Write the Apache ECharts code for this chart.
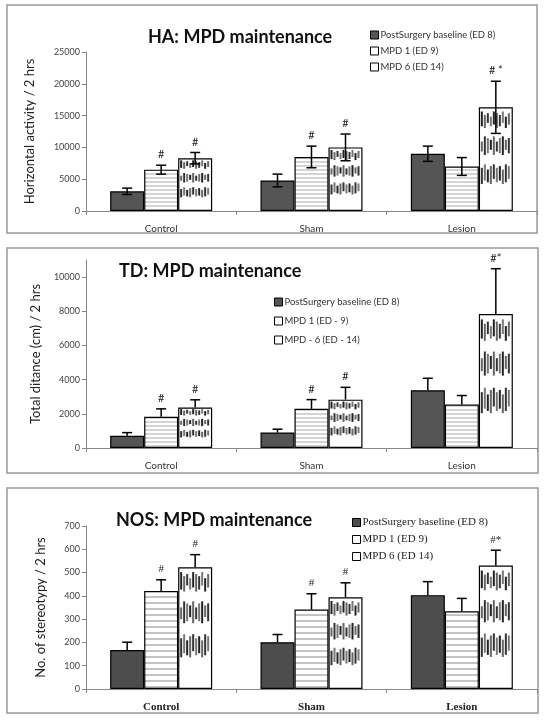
<!DOCTYPE html>
<html><head><meta charset="utf-8">
<script src="https://cdn.jsdelivr.net/npm/echarts@6/dist/echarts.min.js"></script>
<style>html,body{margin:0;padding:0;background:#fff}#c{width:545px;height:721px}</style>
</head><body><div id="c"></div>
<script>
// ---------- data ----------
const categories = ['Control', 'Sham', 'Lesion'];

const haNames = ['PostSurgery baseline (ED 8)', 'MPD 1 (ED 9)', 'MPD 6 (ED 14)'];
const haBase = [3100, 4800, 9000];
const haBaseErr = [500, 1000, 1200];
const haMpd1 = [6500, 8500, 7000];
const haMpd1Err = [700, 1700, 1400];
const haMpd6 = [8300, 10000, 16300];
const haMpd6Err = [900, 2100, 4100];
const haMpd1Marks = ['#', '#', ''];
const haMpd6Marks = ['#', '#', '# *'];
const haTicks = [0, 5000, 10000, 15000, 20000, 25000];

const tdNames = ['PostSurgery baseline (ED 8)', 'MPD 1 (ED - 9)', 'MPD - 6 (ED - 14)'];
const tdBase = [720, 910, 3380];
const tdBaseErr = [180, 190, 700];
const tdMpd1 = [1830, 2290, 2540];
const tdMpd1Err = [460, 540, 530];
const tdMpd6 = [2370, 2830, 7840];
const tdMpd6Err = [450, 720, 2650];
const tdMpd1Marks = ['#', '#', ''];
const tdMpd6Marks = ['#', '#', '#*'];
const tdTicks = [0, 2000, 4000, 6000, 8000, 10000];
const tdAxisMax = 11000;

const nosNames = ['PostSurgery baseline (ED 8)', 'MPD 1 (ED 9)', 'MPD 6 (ED 14)'];
const nosBase = [167, 201, 403];
const nosBaseErr = [34, 33, 58];
const nosMpd1 = [421, 341, 334];
const nosMpd1Err = [48, 68, 55];
const nosMpd6 = [523, 394, 530];
const nosMpd6Err = [54, 62, 66];
const nosMpd1Marks = ['#', '#', ''];
const nosMpd6Marks = ['#', '#', '#*'];
const nosTicks = [0, 100, 200, 300, 400, 500, 600, 700];

// ---------- styles ----------
const SANS = 'Lato, "Liberation Sans", sans-serif';
const SERIF = '"Liberation Serif", "DejaVu Serif", serif';
const BAR_W = 34;

function hPattern(step, color) {
  const c = document.createElement('canvas');
  c.width = 16; c.height = step;
  const g = c.getContext('2d');
  g.fillStyle = '#fff'; g.fillRect(0, 0, 16, step);
  g.strokeStyle = color; g.lineWidth = 1;
  g.beginPath(); g.moveTo(0, step / 2); g.lineTo(16, step / 2); g.stroke();
  return c;
}
const pat1 = { image: hPattern(4, '#aaa'), repeat: 'repeat' };
const pat3h = { image: hPattern(6, '#888'), repeat: 'repeat' };

// stripe band geometry (fractions of bar height from the top) and jag offsets (style only)
const BANDS = [[0.04, 0.2], [0.28, 0.46], [0.55, 0.74]];
const JAG_TOP = [0, 2, 1, 3, 0, 1, 2, 0, 3, 1];
const JAG_BOT = [1, 0, 3, 1, 2, 0, 1, 3, 0, 2];
const STRIPE_COLS = ['#222', '#666', '#333', '#777'];

const panels = [
  { names: haNames, vals: [haBase, haMpd1, haMpd6], errs: [haBaseErr, haMpd1Err, haMpd6Err],
    marks: [['', '', ''], haMpd1Marks, haMpd6Marks], ticks: haTicks, max: haTicks[haTicks.length - 1],
    both: true, fills: ['#555', pat1, '#fff'],
    grid: { left: 86, top: 52, width: 451, height: 159 },
    title: 'HA: MPD maintenance', titlePos: { left: 143, top: 23 },
    yName: 'Horizontal activity / 2 hrs', nameGap: 50,
    legendPos: { left: 365, top: 25 }, legendGap: 6, legendFont: { fontFamily: SANS, fontSize: 9.5, color: '#333' },
    catFont: { fontFamily: SANS, fontSize: 10, color: '#333' } },
  { names: tdNames, vals: [tdBase, tdMpd1, tdMpd6], errs: [tdBaseErr, tdMpd1Err, tdMpd6Err],
    marks: [['', '', ''], tdMpd1Marks, tdMpd6Marks], ticks: tdTicks, max: tdAxisMax,
    both: false, fills: ['#555', pat1, '#fff'],
    grid: { left: 86, top: 260, width: 451, height: 188 },
    title: 'TD: MPD maintenance', titlePos: { left: 114, top: 257 },
    yName: 'Total ditance (cm) / 2 hrs', nameGap: 44,
    legendPos: { left: 269, top: 292 }, legendGap: 9, legendFont: { fontFamily: SANS, fontSize: 9.5, color: '#333' },
    catFont: { fontFamily: SANS, fontSize: 10, color: '#333' } },
  { names: nosNames, vals: [nosBase, nosMpd1, nosMpd6], errs: [nosBaseErr, nosMpd1Err, nosMpd6Err],
    marks: [['', '', ''], nosMpd1Marks, nosMpd6Marks], ticks: nosTicks, max: nosTicks[nosTicks.length - 1],
    both: false, fills: ['#4d4d4d', pat3h, '#fff'],
    grid: { left: 86, top: 526, width: 451, height: 163 },
    title: 'NOS: MPD maintenance', titlePos: { left: 111, top: 506 },
    yName: 'No. of stereotypy / 2 hrs', nameGap: 39,
    legendPos: { left: 347, top: 512 }, legendGap: 6, legendFont: { fontFamily: SERIF, fontSize: 11, color: '#222' },
    catFont: { fontFamily: SERIF, fontSize: 11, fontWeight: 'bold', color: '#222' } }
];

const option = {
  animation: false,
  backgroundColor: '#fff',
  title: [], legend: [], grid: [], xAxis: [], yAxis: [], series: [],
  graphic: [
    { type: 'rect', shape: { x: 7, y: 5, width: 530, height: 228 }, style: { fill: 'none', stroke: '#999', lineWidth: 1.5 } },
    { type: 'rect', shape: { x: 7, y: 248, width: 531, height: 225 }, style: { fill: 'none', stroke: '#999', lineWidth: 1.5 } },
    { type: 'rect', shape: { x: 7, y: 488, width: 531, height: 225 }, style: { fill: 'none', stroke: '#999', lineWidth: 1.5 } }
  ]
};

panels.forEach((p, pi) => {
  option.grid.push(p.grid);
  option.title.push({ text: p.title, left: p.titlePos.left, top: p.titlePos.top,
    textStyle: { fontFamily: SANS, fontSize: 18, fontWeight: 'bold', color: '#111' } });
  option.legend.push({
    orient: 'vertical', left: p.legendPos.left, top: p.legendPos.top,
    itemWidth: 8, itemHeight: 8, itemGap: p.legendGap, icon: 'rect', selectedMode: false,
    textStyle: Object.assign({ padding: [0, 0, 0, -3] }, p.legendFont),
    data: p.names.map((n, k) => ({ name: n,
      itemStyle: { color: k === 0 ? p.fills[0] : '#fff', borderColor: '#000', borderWidth: 1 } }))
  });
  option.xAxis.push({
    type: 'category', gridIndex: pi, data: categories,
    axisLine: { lineStyle: { color: '#888', width: 1 } },
    axisTick: { show: true, length: 4, lineStyle: { color: '#888' } },
    axisLabel: Object.assign({ margin: 13 }, p.catFont)
  });
  option.yAxis.push({
    type: 'value', gridIndex: pi, min: 0, max: p.max, interval: p.ticks[1] - p.ticks[0],
    splitLine: { show: false },
    axisLine: { show: true, lineStyle: { color: '#888' } },
    axisTick: { show: true, length: 4, lineStyle: { color: '#888' } },
    axisLabel: { showMaxLabel: p.max === p.ticks[p.ticks.length - 1], fontFamily: SANS, fontSize: 9,
      color: '#444', margin: 6, formatter: v => String(v) },
    name: p.yName, nameLocation: 'middle', nameGap: p.nameGap,
    nameTextStyle: { fontFamily: SANS, fontSize: 13, color: '#222' }
  });
  p.vals.forEach((v, k) => {
    option.series.push({
      type: 'bar', name: p.names[k], xAxisIndex: pi, yAxisIndex: pi, data: v,
      barWidth: BAR_W, barGap: '0%',
      itemStyle: { color: p.fills[k], borderColor: '#000', borderWidth: 1.2 }
    });
  });
  // vertical stripe bands inside the MPD 6 bars, scaled to each bar's height
  option.series.push({
    type: 'custom', name: 'stripes' + pi, xAxisIndex: pi, yAxisIndex: pi, z: 5, silent: true,
    data: p.vals[2].map((val, i) => [i, val]),
    encode: { x: 0, y: 1 },
    renderItem: (params, api) => {
      const i = api.value(0), val = api.value(1);
      const top = api.coord([i, val]);
      const base = api.coord([i, 0]);
      const h = base[1] - top[1];
      const left = top[0] + BAR_W / 2 + 2;
      const n = Math.floor((BAR_W - 3) / 3);
      const ch = [];
      const jagScale = Math.max(0.5, h / 60);
      BANDS.forEach((b, bi) => {
        for (let s = 0; s < n; s++) {
          const y1 = top[1] + h * b[0] + JAG_TOP[(s + bi * 3) % 10] * jagScale;
          const y2 = top[1] + h * b[1] - JAG_BOT[(s + bi * 4) % 10] * jagScale;
          if (y2 - y1 < 1) continue;
          ch.push({ type: 'rect', shape: { x: left + s * 3, y: y1, width: 2, height: y2 - y1 },
            style: { fill: STRIPE_COLS[(s + bi) % 4] } });
        }
      });
      return { type: 'group', children: ch };
    }
  });
  p.vals.forEach((v, k) => {
    const errs = p.errs[k], marks = p.marks[k];
    option.series.push({
      type: 'custom', name: 'err' + pi + '_' + k, xAxisIndex: pi, yAxisIndex: pi, z: 10, silent: true,
      data: v.map((val, i) => [i, val, errs[i]]),
      encode: { x: 0, y: 1 },
      renderItem: (params, api) => {
        const i = api.value(0), val = api.value(1), e = api.value(2);
        const c = api.coord([i, val]);
        const x = c[0] + (k - 1) * BAR_W;
        const yTop = api.coord([i, val + e])[1];
        const yBot = p.both ? api.coord([i, val - e])[1] : c[1];
        const ls = { stroke: '#000', lineWidth: 1.5 };
        const ch = [
          { type: 'line', shape: { x1: x, y1: yTop, x2: x, y2: yBot }, style: ls },
          { type: 'line', shape: { x1: x - 5, y1: yTop, x2: x + 5, y2: yTop }, style: ls }
        ];
        if (p.both) ch.push({ type: 'line', shape: { x1: x - 5, y1: yBot, x2: x + 5, y2: yBot }, style: ls });
        const m = marks[params.dataIndex];
        if (m) ch.push({ type: 'text', style: { text: m, x: x, y: yTop - 5, align: 'center', verticalAlign: 'bottom',
          fontFamily: pi === 2 ? SERIF : SANS, fontSize: 11, fill: '#222' } });
        return { type: 'group', children: ch };
      }
    });
  });
});

const chart = echarts.init(document.getElementById('c'), null, { renderer: 'canvas' });
chart.setOption(option);
</script>
</body></html>
